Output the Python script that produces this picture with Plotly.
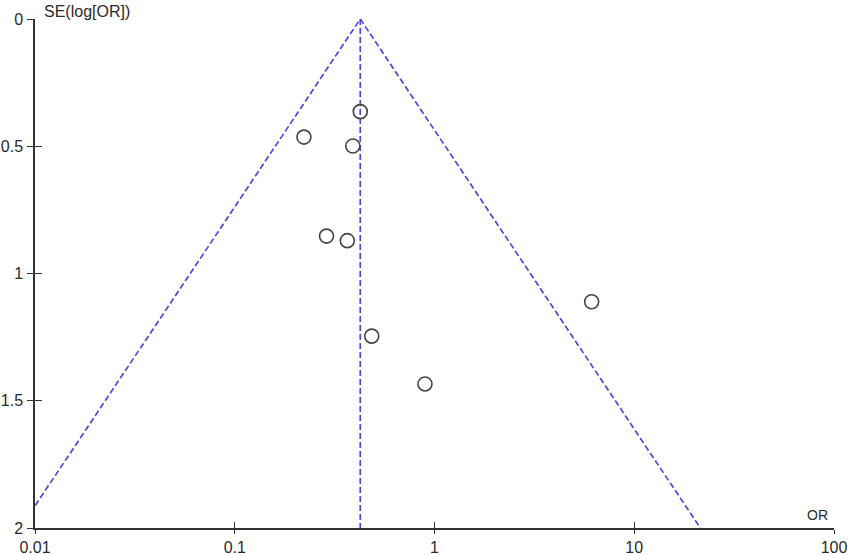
import math
import plotly.graph_objects as go

# Study data
odds_ratio = [0.425, 0.222, 0.390, 0.288, 0.366, 0.485, 0.896, 6.12]
se_log_or = [0.364, 0.464, 0.499, 0.853, 0.871, 1.246, 1.434, 1.111]
pooled_or = 0.425
se_max = 2.0
x_ticks = [0.01, 0.1, 1, 10, 100]
x_tick_labels = ["0.01", "0.1", "1", "10", "100"]
y_ticks = [0, 0.5, 1, 1.5, 2]
y_tick_labels = ["0", "0.5", "1", "1.5", "2"]

z = 1.96
lo_end = pooled_or * math.exp(-z * se_max)
hi_end = pooled_or * math.exp(z * se_max)

blue = "#4a4ad8"
axis_col = "#333333"
font = dict(family="Liberation Sans, Arial, sans-serif", size=16, color="#2a2a2a")

fig = go.Figure()
# funnel limits
fig.add_trace(go.Scatter(x=[lo_end, pooled_or, hi_end], y=[se_max, 0, se_max],
                         mode="lines", line=dict(color=blue, width=1.7, dash="6px,3px"),
                         hoverinfo="skip", showlegend=False))
# pooled estimate line
fig.add_trace(go.Scatter(x=[pooled_or, pooled_or], y=[0, se_max],
                         mode="lines", line=dict(color=blue, width=1.7, dash="6px,3px"),
                         hoverinfo="skip", showlegend=False))
# studies
fig.add_trace(go.Scatter(x=odds_ratio, y=se_log_or, mode="markers",
                         marker=dict(symbol="circle-open", size=14,
                                     color="#444444", line=dict(width=1.6, color="#444444")),
                         showlegend=False, cliponaxis=False))
# dummy trace for overlay axes (inside tick halves)
fig.add_trace(go.Scatter(x=[pooled_or], y=[0], xaxis="x2", yaxis="y2",
                         mode="markers", marker=dict(opacity=0), hoverinfo="skip",
                         showlegend=False))

fig.update_layout(
    width=851, height=555,
    margin=dict(l=35, r=17, t=19, b=27),
    paper_bgcolor="white", plot_bgcolor="white",
    font=font,
    xaxis=dict(type="log", range=[-2, 2], tickvals=x_ticks, ticktext=x_tick_labels,
               showgrid=False, zeroline=False, showline=True, linecolor=axis_col,
               linewidth=1.5, ticks="outside", ticklen=4, tickwidth=1.3,
               tickcolor=axis_col, tickfont=font, automargin=False),
    yaxis=dict(range=[2, 0], tickvals=y_ticks, ticktext=y_tick_labels,
               showgrid=False, zeroline=False, showline=True, linecolor=axis_col,
               linewidth=1.5, ticks="outside", ticklen=6, tickwidth=1.3,
               tickcolor=axis_col, tickfont=font, ticklabelstandoff=1,
               automargin=False),
    xaxis2=dict(type="log", range=[-2, 2], overlaying="x", tickvals=x_ticks,
                showticklabels=False, showgrid=False, zeroline=False,
                ticks="inside", ticklen=6, tickwidth=1.3, tickcolor=axis_col,
                anchor="y2", side="bottom", automargin=False),
    yaxis2=dict(range=[2, 0], overlaying="y", tickvals=y_ticks, showticklabels=False,
                showgrid=False, zeroline=False, ticks="inside", ticklen=7,
                tickwidth=1.3, tickcolor=axis_col, anchor="x2", side="left",
                automargin=False),
    annotations=[
        dict(text="SE(log[OR])", xref="paper", yref="paper", x=0, y=1,
             xanchor="left", yanchor="middle", xshift=7, yshift=8,
             showarrow=False, font=dict(family=font["family"], size=16, color="#2a2a2a")),
        dict(text="OR", xref="paper", yref="paper", x=1, y=0,
             xanchor="right", yanchor="bottom", xshift=-4, yshift=3,
             showarrow=False, font=dict(family=font["family"], size=14, color="#2a2a2a")),
    ],
)

fig.write_html("out.html", config={"displayModeBar": False},
               post_script="document.body.style.margin='0';document.body.style.overflow='hidden';")
